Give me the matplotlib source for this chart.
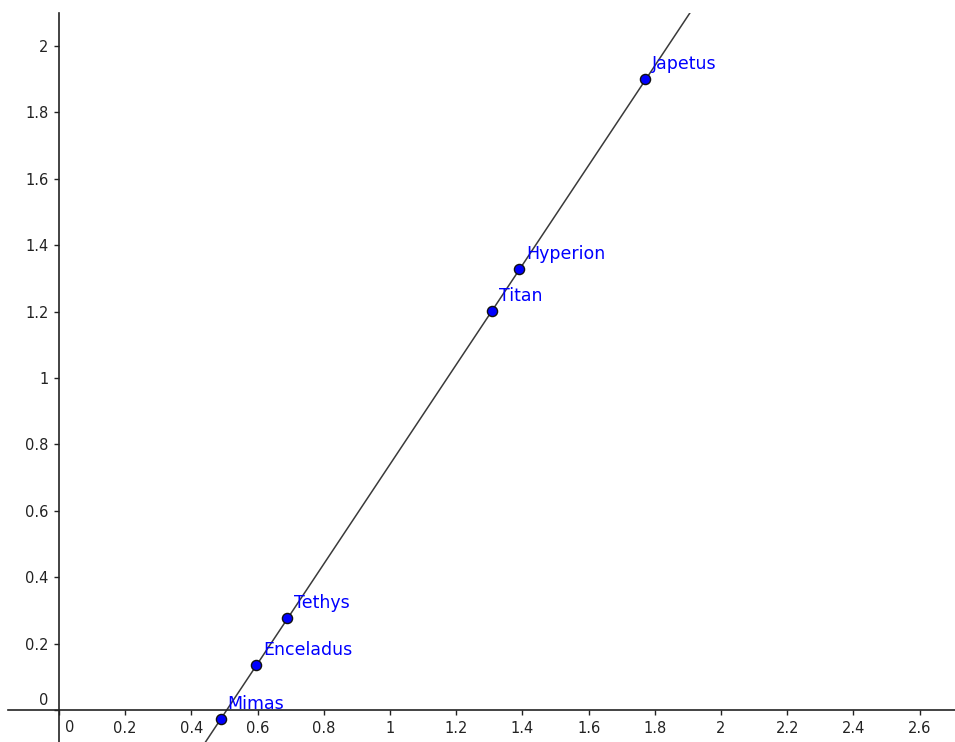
import matplotlib.pyplot as plt
from matplotlib.ticker import FuncFormatter, MultipleLocator

# Saturn moons: log10(semi-major axis / Saturn radius) vs log10(period / days)
moons = ["Mimas", "Enceladus", "Tethys", "Titan", "Hyperion", "Japetus"]
log_a = [0.488, 0.596, 0.689, 1.307, 1.390, 1.771]
log_t = [-0.026, 0.137, 0.276, 1.203, 1.328, 1.899]

# fitted line y = slope * x + intercept
slope = 1.5
intercept = -0.76

fig = plt.figure(figsize=(9.55, 7.42), dpi=100)
ax = fig.add_axes([8 / 955, 0, 947 / 955, 729 / 742])
ax.set_xlim(-0.154, 2.707)
ax.set_ylim(-0.096, 2.099)

ax.axline((0, intercept), slope=slope, color="#3a3a3a", lw=1.1, zorder=2)
ax.plot(log_a, log_t, "o", ms=7.3, mfc="#0000ff", mec="#111111", mew=1.0, zorder=3)
for name, x, y in zip(moons, log_a, log_t):
    ax.annotate(name, (x, y), xytext=(7, 10), textcoords="offset pixels",
                color="#0000ff", fontsize=12.5, va="baseline", zorder=4)

# axes through the origin, GeoGebra style
for side in ["top", "right"]:
    ax.spines[side].set_visible(False)
ax.spines["left"].set_position(("data", 0))
ax.spines["bottom"].set_position(("data", 0))
for side in ["left", "bottom"]:
    ax.spines[side].set_linewidth(1.2)
    ax.spines[side].set_color("#222222")

ax.xaxis.set_major_locator(MultipleLocator(0.2))
ax.yaxis.set_major_locator(MultipleLocator(0.2))
fmt = FuncFormatter(lambda v, pos: "" if abs(v) < 1e-9 else f"{round(v, 1):g}")
ax.xaxis.set_major_formatter(fmt)
ax.yaxis.set_major_formatter(fmt)
ax.tick_params(direction="out", length=3.6, width=1.0, color="#222222",
               labelsize=10.5, labelcolor="#222222", pad=4)

# the zero labels sit off the origin
ax.annotate("0", (0, 0), xytext=(11, -17), textcoords="offset pixels",
            ha="center", va="center", fontsize=10.5, color="#222222")
ax.annotate("0", (0, 0), xytext=(-11, 10), textcoords="offset pixels",
            ha="right", va="center", fontsize=10.5, color="#222222")

ax.set_facecolor("white")
fig.savefig("out.png", dpi=100, facecolor="white")
